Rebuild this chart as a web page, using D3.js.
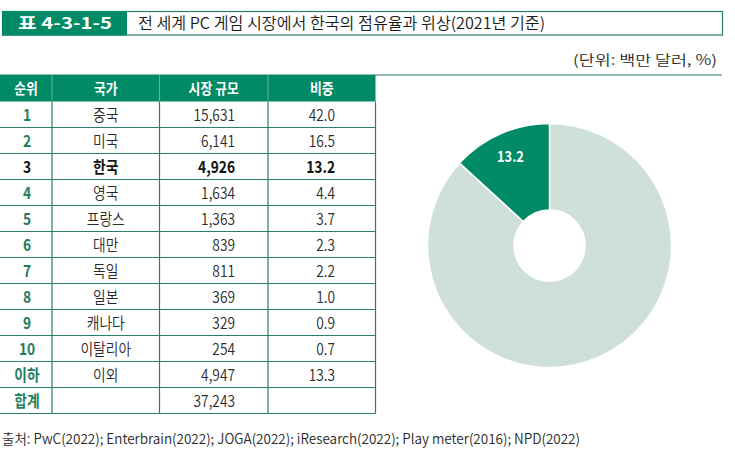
<!DOCTYPE html>
<html>
<head>
<meta charset="utf-8">
<script src="https://cdn.jsdelivr.net/npm/d3@7"></script>
<style>
  body { margin: 0; background: #fff; }
  svg { display: block; font-family: "Noto Sans CJK KR", "Noto Sans", sans-serif; }
</style>
</head>
<body>
<div id="chart"></div>
<script>
const titleTag = '표 4-3-1-5';
const titleText = '전 세계 PC 게임 시장에서 한국의 점유율과 위상(2021년 기준)';
const unitText = '(단위: 백만 달러, %)';
const sourceText = '출처: PwC(2022); Enterbrain(2022); JOGA(2022); iResearch(2022); Play meter(2016); NPD(2022)';

const headers = ['순위', '국가', '시장 규모', '비중'];
const ranks = ['1', '2', '3', '4', '5', '6', '7', '8', '9', '10', '이하', '합계'];
const countries = ['중국', '미국', '한국', '영국', '프랑스', '대만', '독일', '일본', '캐나다', '이탈리아', '이외', ''];
const marketSize = [15631, 6141, 4926, 1634, 1363, 839, 811, 369, 329, 254, 4947, 37243];
const shares = [42.0, 16.5, 13.2, 4.4, 3.7, 2.3, 2.2, 1.0, 0.9, 0.7, 13.3, null];
const highlight = '한국';

const pieLabels = ['기타', '한국'];
const pieValues = [86.8, 13.2];

const green = '#008a66';
const lineColor = '#2b7d6e';
const rankColor = '#1f7d5e';
const lightGreen = '#cfe0d9';
const sx = 0.86; // narrow Korean face look

const width = 735, height = 455;
const svg = d3.select('#chart').append('svg')
    .attr('width', width)
    .attr('height', height);

function narrowText(g, x, y, txt, opts = {}) {
    return g.append('text')
        .attr('transform', `translate(${x},${y}) scale(${sx},1)`)
        .attr('text-anchor', opts.anchor || 'middle')
        .attr('font-size', opts.size || 15)
        .attr('font-weight', opts.bold ? 700 : 350)
        .attr('fill', opts.fill || '#222')
        .text(txt);
}

// title bar
svg.append('rect')
    .attr('x', 2.5).attr('y', 11.5).attr('width', 720).attr('height', 23.5)
    .attr('fill', '#fff').attr('stroke', lineColor).attr('stroke-width', 1.2);
svg.append('rect')
    .attr('x', 2).attr('y', 11).attr('width', 125).attr('height', 24.5)
    .attr('fill', green);
svg.append('text')
    .attr('x', 65).attr('y', 29).attr('text-anchor', 'middle')
    .attr('font-size', 16).attr('font-weight', 700).attr('fill', '#fff')
    .attr('textLength', 94).attr('lengthAdjust', 'spacingAndGlyphs')
    .text(titleTag);
svg.append('text')
    .attr('x', 138).attr('y', 29)
    .attr('font-size', 16).attr('font-weight', 350).attr('fill', '#1a1a1a')
    .attr('textLength', 407).attr('lengthAdjust', 'spacingAndGlyphs')
    .text(titleText);

// unit
svg.append('text')
    .attr('x', 717).attr('y', 65).attr('text-anchor', 'end')
    .attr('font-size', 14).attr('font-weight', 350).attr('fill', '#2a2a2a')
    .attr('textLength', 144).attr('lengthAdjust', 'spacingAndGlyphs')
    .text(unitText);
svg.append('line')
    .attr('x1', 0).attr('x2', 722).attr('y1', 75).attr('y2', 75)
    .attr('stroke', lineColor).attr('stroke-width', 1.2);

// table
const colEdges = [0, 52, 159.5, 268, 375.5];
const headTop = 75, headH = 26.5, rowH = 26;
const y = d3.scaleLinear()
    .domain([0, ranks.length])
    .range([headTop + headH, headTop + headH + rowH * ranks.length]);

const table = svg.append('g');
table.append('rect')
    .attr('x', colEdges[0]).attr('y', headTop)
    .attr('width', colEdges[4] - colEdges[0]).attr('height', headH)
    .attr('fill', green);

headers.forEach((h, i) => {
    const cx = (colEdges[i] + colEdges[i + 1]) / 2;
    narrowText(table, cx, headTop + 19, h, { bold: true, fill: '#fff', size: 15 });
    if (i > 0) {
        table.append('line')
            .attr('x1', colEdges[i]).attr('x2', colEdges[i])
            .attr('y1', headTop).attr('y2', headTop + headH)
            .attr('stroke', '#5fb096').attr('stroke-width', 1);
    }
});

const fmt = d3.format(',');
const rows = table.selectAll('g.row')
    .data(ranks.map((r, i) => ({ rank: r, country: countries[i], size: marketSize[i], share: shares[i] })))
    .join('g')
    .attr('class', 'row');

rows.each(function (d, i) {
    const g = d3.select(this);
    const base = y(i) + 19.5;
    const bold = d.country === highlight;
    narrowText(g, (colEdges[0] + colEdges[1]) / 2 + 1, base, d.rank,
        { bold: true, fill: bold ? '#111' : rankColor, size: 16 });
    narrowText(g, (colEdges[1] + colEdges[2]) / 2, base, d.country,
        { bold, fill: bold ? '#111' : '#2a2a2a', size: 16 });
    narrowText(g, 235, base, fmt(d.size), { anchor: 'end', bold, fill: bold ? '#111' : '#2a2a2a', size: 16 });
    if (d.share !== null) {
        narrowText(g, 335, base, d.share.toFixed(1), { anchor: 'end', bold, fill: bold ? '#111' : '#2a2a2a', size: 16 });
    }
    g.append('line')
        .attr('x1', colEdges[0]).attr('x2', colEdges[4])
        .attr('y1', y(i + 1)).attr('y2', y(i + 1))
        .attr('stroke', lineColor).attr('stroke-width', 1.2);
});

[1, 2, 3, 4].forEach(i => {
    table.append('line')
        .attr('x1', colEdges[i]).attr('x2', colEdges[i])
        .attr('y1', y(0)).attr('y2', y(ranks.length))
        .attr('stroke', lineColor).attr('stroke-width', 1.2);
});

// donut
const cx = 549.5, cy = 245.5, outerR = 122, innerR = 35.5;
const pie = d3.pie().sort(null).value(d => d)(pieValues);
const arc = d3.arc().innerRadius(innerR).outerRadius(outerR);
const labelArc = d3.arc().innerRadius(97).outerRadius(97);
const donut = svg.append('g').attr('transform', `translate(${cx},${cy})`);
donut.selectAll('path')
    .data(pie)
    .join('path')
    .attr('d', arc)
    .attr('fill', (d, i) => pieLabels[i] === highlight ? green : lightGreen)
    .attr('stroke', '#fff')
    .attr('stroke-width', 1.5);
donut.selectAll('text')
    .data(pie.filter((d, i) => pieLabels[i] === highlight))
    .join('text')
    .attr('transform', d => {
        const [px, py] = labelArc.centroid(d);
        return `translate(${px},${py + 5}) scale(${sx},1)`;
    })
    .attr('text-anchor', 'middle')
    .attr('font-size', 15).attr('font-weight', 700).attr('fill', '#fff')
    .text(d => d.value.toFixed(1));

// source
svg.append('text')
    .attr('x', 2).attr('y', 444)
    .attr('font-size', 14).attr('font-weight', 350).attr('fill', '#2a2a2a')
    .attr('textLength', 578).attr('lengthAdjust', 'spacingAndGlyphs')
    .text(sourceText);
</script>
</body>
</html>
